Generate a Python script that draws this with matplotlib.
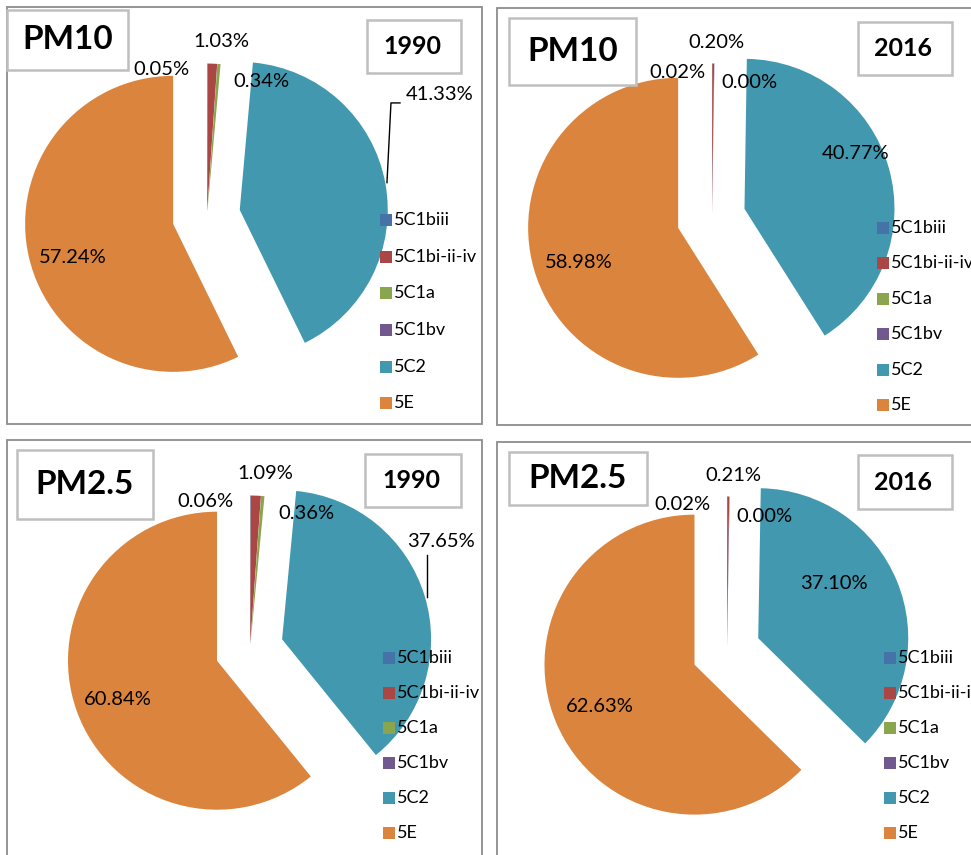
import matplotlib
matplotlib.use("Agg")
import matplotlib.pyplot as plt
from matplotlib.patches import Rectangle

plt.rcParams['font.family'] = ['Lato', 'DejaVu Sans']

# ---------------- data ----------------
categories = ["5C1biii", "5C1bi-ii-iv", "5C1a", "5C1bv", "5C2", "5E"]
pm10_1990 = [0.05, 1.03, 0.34, 0.00, 41.33, 57.24]
pm10_2016 = [0.02, 0.20, 0.00, 0.03, 40.77, 58.98]
pm25_1990 = [0.06, 1.09, 0.36, 0.00, 37.65, 60.84]
pm25_2016 = [0.02, 0.21, 0.00, 0.04, 37.10, 62.63]
# labels shown on the chart (None = not labelled)
labels_pm10_1990 = ["0.05%", "1.03%", "0.34%", None, "41.33%", "57.24%"]
labels_pm10_2016 = ["0.02%", "0.20%", "0.00%", None, "40.77%", "58.98%"]
labels_pm25_1990 = ["0.06%", "1.09%", "0.36%", None, "37.65%", "60.84%"]
labels_pm25_2016 = ["0.02%", "0.21%", "0.00%", None, "37.10%", "62.63%"]
pollutants = ["PM10", "PM10", "PM2.5", "PM2.5"]
years = ["1990", "2016", "1990", "2016"]

colors = ["#4572A7", "#AA4643", "#89A54E", "#71588F", "#4198AF", "#DB843D"]

# ---------------- layout (pixel coords, image y downwards) ----------------
W, H = 971, 855
panels = [
    dict(vals=pm10_1990, labels=labels_pm10_1990, c=(207, 216), R=148,
         frame=(7, 7, 482, 424), tbox=(7, 10, 128, 70), ybox=(367, 20, 461, 73),
         leg=(380, 220, 36.7),
         loff=[(-0.31, 0.99), (0.095, 1.18), (0.37, 0.91), None, (1.57, 0.82), (-0.91, -0.28)],
         leader=[(1.216, 0.225), (1.243, 0.764), (1.304, 0.764)]),
    dict(vals=pm10_2016, labels=labels_pm10_2016, c=(712, 218), R=150,
         frame=(497, 8, 985, 425), tbox=(509, 18, 636, 85), ybox=(858, 22, 952, 75),
         leg=(877, 228, 35.4),
         loff=[(-0.23, 0.97), (0.03, 1.17), (0.25, 0.90), None, (0.96, 0.43), (-0.89, -0.30)],
         leader=None),
    dict(vals=pm25_1990, labels=labels_pm25_1990, c=(250, 649), R=149,
         frame=(7, 440, 482, 870), tbox=(17, 450, 153, 519), ybox=(365, 454, 461, 507),
         leg=(383, 658, 35.0),
         loff=[(-0.30, 0.99), (0.10, 1.18), (0.38, 0.91), None, (1.28, 0.72), (-0.89, -0.34)],
         leader=[(1.188, 0.349), (1.188, 0.631)]),
    dict(vals=pm25_2016, labels=labels_pm25_2016, c=(727, 651), R=150,
         frame=(497, 442, 985, 870), tbox=(509, 452, 647, 505), ybox=(858, 455, 952, 509),
         leg=(884, 658, 35.0),
         loff=[(-0.30, 0.98), (0.04, 1.17), (0.25, 0.90), None, (0.71, 0.45), (-0.85, -0.37)],
         leader=None),
]
explode_frac = [0.03, 0.03, 0.03, 0.03, 0.225, 0.235]

fig = plt.figure(figsize=(W / 100, H / 100), dpi=100)
ax = fig.add_axes([0, 0, 1, 1])
ax.set_xlim(0, W)
ax.set_ylim(0, H)
ax.axis("off")


def yy(y):
    return H - y


def box(b, ec, lw, z):
    x0, y0, x1, y1 = b
    ax.add_patch(Rectangle((x0, yy(y1)), x1 - x0, y1 - y0, facecolor="white",
                           edgecolor=ec, linewidth=lw, zorder=z))


for i, p in enumerate(panels):
    box(p["frame"], "#8C8C8C", 1.3, 0)
    cx, cy = p["c"][0], yy(p["c"][1])
    R = p["R"]
    ax.pie(p["vals"], radius=R, center=(cx, cy), startangle=90, counterclock=False,
           explode=[e * R for e in explode_frac], colors=colors,
           wedgeprops=dict(linewidth=0), frame=True)
    # data labels
    for lab, off in zip(p["labels"], p["loff"]):
        if lab is None or off is None:
            continue
        ax.text(cx + off[0] * R, cy + off[1] * R, lab, fontsize=14.5, ha="center",
                va="center", color="black", zorder=5)
    if p["leader"]:
        xs = [cx + a * R for a, b in p["leader"]]
        ys = [cy + b * R for a, b in p["leader"]]
        ax.plot(xs, ys, color="black", lw=1.0, zorder=5)
    # legend
    lx, ly, step = p["leg"]
    for k, (cat, col) in enumerate(zip(categories, colors)):
        yc = ly + k * step
        ax.add_patch(Rectangle((lx, yy(yc + 6)), 12, 12, facecolor=col, edgecolor="none", zorder=6))
        ax.text(lx + 14, yy(yc), cat, fontsize=13, ha="left", va="center", zorder=6)
    # title boxes
    box(p["tbox"], "#BFBFBF", 1.8, 7)
    tb = p["tbox"]
    ax.text((tb[0] + tb[2]) / 2, yy((tb[1] + tb[3]) / 2), pollutants[i], fontsize=24,
            fontweight="bold", ha="center", va="center", zorder=8)
    box(p["ybox"], "#BFBFBF", 1.8, 7)
    yb = p["ybox"]
    ax.text((yb[0] + yb[2]) / 2 - 2, yy((yb[1] + yb[3]) / 2), years[i], fontsize=18,
            fontweight="bold", ha="center", va="center", zorder=8)

ax.set_xlim(0, W)
ax.set_ylim(0, H)
ax.set_aspect("auto")
ax.axis("off")
fig.savefig("out.png", dpi=100)
